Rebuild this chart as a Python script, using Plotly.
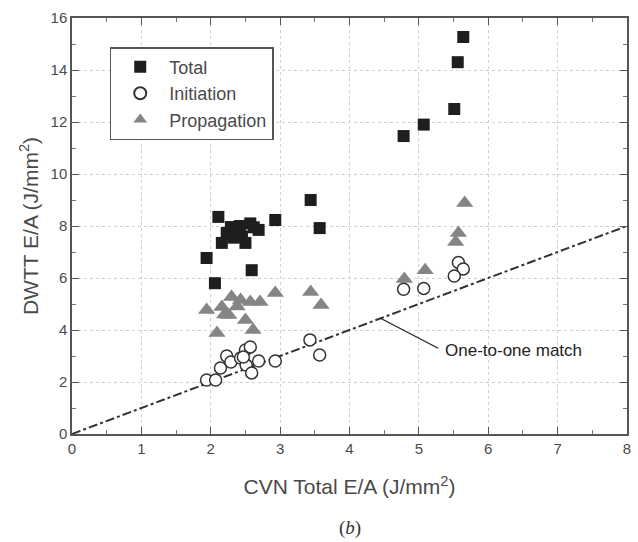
import plotly.graph_objects as go

total_x = [5.64, 5.56, 5.51, 5.07, 4.78, 3.44, 3.57, 2.93, 2.11, 1.94, 2.06, 2.59,
           2.29, 2.57, 2.69, 2.23, 2.37, 2.16, 2.5, 2.45, 2.33, 2.62, 2.42]
total_y = [15.27, 14.3, 12.5, 11.9, 11.46, 9.0, 7.92, 8.23, 8.35, 6.77, 5.8, 6.3,
           7.96, 8.1, 7.85, 7.73, 7.77, 7.35, 7.35, 7.6, 7.55, 7.95, 8.0]

init_x = [5.57, 5.64, 5.51, 5.07, 4.78, 1.94, 2.07, 2.14, 2.23, 2.29, 2.43, 2.5,
          2.57, 2.51, 2.59, 2.69, 2.93, 3.43, 3.57, 2.47]
init_y = [6.6, 6.35, 6.08, 5.6, 5.57, 2.08, 2.08, 2.54, 3.0, 2.77, 2.92, 3.23,
          3.35, 2.65, 2.35, 2.81, 2.81, 3.62, 3.04, 2.96]

prop_x = [5.66, 5.57, 5.53, 5.09, 4.79, 2.93, 3.44, 3.59, 2.3, 2.43, 2.57, 2.71,
          1.94, 2.16, 2.26, 2.5, 2.61, 2.09, 2.38, 2.2]
prop_y = [8.88, 7.73, 7.38, 6.3, 5.96, 5.42, 5.46, 4.96, 5.27, 5.15, 5.08, 5.08,
          4.77, 4.88, 4.58, 4.38, 4.0, 3.88, 4.9, 4.6]

match_x = [0, 8]
match_y = [0, 8]

x_ticks = [0, 1, 2, 3, 4, 5, 6, 7, 8]
y_ticks = [0, 2, 4, 6, 8, 10, 12, 14, 16]

FONT = "Liberation Sans, Arial, sans-serif"
TXT = "#4a4a4a"

fig = go.Figure()
fig.add_trace(go.Scatter(x=match_x, y=match_y, mode="lines",
                         line=dict(color="#333333", width=2, dash="dashdot"),
                         showlegend=False, hoverinfo="skip"))
fig.add_trace(go.Scatter(x=prop_x, y=prop_y, mode="markers", name="Propagation",
                         marker=dict(symbol="triangle-up", size=15, color="#858585",
                                     line=dict(width=0))))
fig.add_trace(go.Scatter(x=init_x, y=init_y, mode="markers", name="Initiation",
                         marker=dict(symbol="circle", size=12, color="white",
                                     line=dict(color="#333333", width=1.5))))
fig.add_trace(go.Scatter(x=total_x, y=total_y, mode="markers", name="Total",
                         marker=dict(symbol="square", size=12, color="#1e1e1e",
                                     line=dict(width=0))))

axis_common = dict(showline=True, linecolor="#555555", linewidth=1.5, mirror="ticks",
                   ticks="inside", ticklen=7, tickcolor="#555555",
                   showgrid=True, gridcolor="#cfcfcf", griddash="dot", gridwidth=1,
                   zeroline=False, tickfont=dict(family=FONT, size=15, color=TXT),
                   minor=dict(ticks="inside", ticklen=4, tickcolor="#777777", showgrid=False))

fig.update_xaxes(range=[0, 8], tickvals=x_ticks, minor_dtick=0.5,
                 title=dict(text="CVN Total E/A (J/mm<sup>2</sup>)",
                            font=dict(family=FONT, size=21, color=TXT), standoff=24),
                 **axis_common)
fig.update_yaxes(range=[0, 16], tickvals=y_ticks, minor_dtick=1,
                 title=dict(text="DWTT E/A (J/mm<sup>2</sup>)",
                            font=dict(family=FONT, size=21, color=TXT), standoff=6),
                 **axis_common)

fig.update_layout(annotations=[
    dict(x=4.44, y=4.46, xref="x", yref="y", ax=5.3, ay=3.27, axref="x", ayref="y",
         text="", showarrow=True, arrowhead=0, arrowwidth=1.3, arrowcolor="#222222"),
    dict(x=5.35, y=3.22, xref="x", yref="y", xanchor="left", yanchor="middle",
         text="One-to-one match", showarrow=False,
         font=dict(family=FONT, size=17, color="#222222")),
    dict(x=0.5, y=-0.227, xref="paper", yref="paper", yanchor="middle",
         text="(<i>b</i>)", showarrow=False,
         font=dict(family="Liberation Serif, Times New Roman, serif", size=19, color="#333333")),
])

fig.update_layout(
    width=638, height=542,
    margin=dict(l=72, r=7, t=18, b=108),
    paper_bgcolor="white", plot_bgcolor="white",
    font=dict(family=FONT, color=TXT),
    legend=dict(x=0.068, y=0.93, xanchor="left", yanchor="top",
                traceorder="reversed", itemwidth=48,
                bgcolor="white", bordercolor="#555555", borderwidth=1.5,
                font=dict(family=FONT, size=18, color=TXT),
                itemsizing="constant"),
)

fig.write_html("out.html")
